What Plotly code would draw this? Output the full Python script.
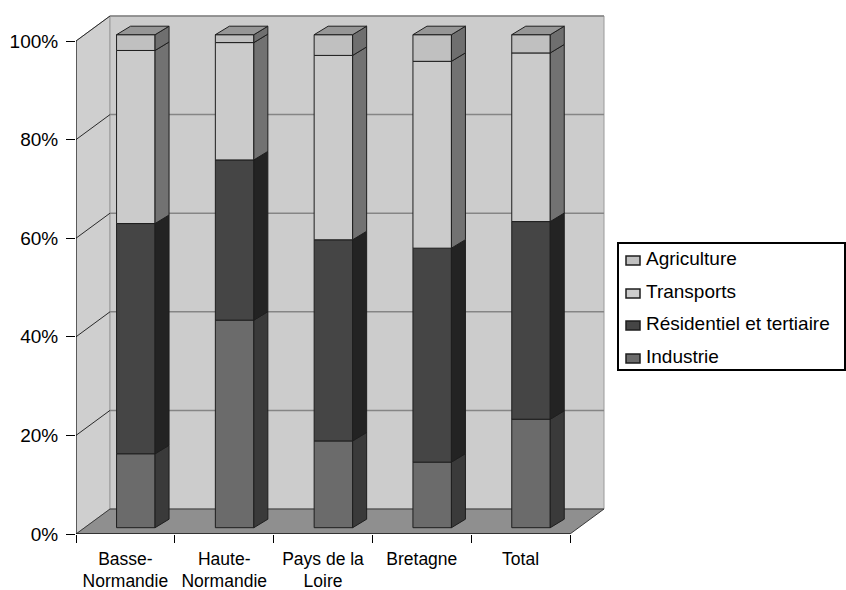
import plotly.graph_objects as go

# Répartition des émissions par secteur (en % du total de chaque région)
regions = ["Basse-<br>Normandie", "Haute-<br>Normandie", "Pays de la<br>Loire", "Bretagne", "Total"]
industrie = [15.0, 42.1, 17.6, 13.3, 22.0]
residentiel = [46.7, 32.5, 40.8, 43.4, 40.1]
transports = [35.1, 23.8, 37.4, 37.9, 34.2]
agriculture = [3.2, 1.6, 4.2, 5.4, 3.7]
pct_ticks = [0, 20, 40, 60, 80, 100]
pct_labels = ["0%", "20%", "40%", "60%", "80%", "100%"]

# stacking order, bottom to top: (name, values, front colour, side colour)
series = [
    ("Industrie", industrie, "#6b6b6b", "#3a3a3a"),
    ("Résidentiel et tertiaire", residentiel, "#454545", "#232323"),
    ("Transports", transports, "#cbcbcb", "#727272"),
    ("Agriculture", agriculture, "#c0c0c0", "#6f6f6f"),
]
legend_order = ["Agriculture", "Transports", "Résidentiel et tertiaire", "Industrie"]
legend_fill = {"Agriculture": "#c0c0c0", "Transports": "#cccccc",
               "Résidentiel et tertiaire": "#454545", "Industrie": "#6b6b6b"}
TOP_FACE = "#969696"

FONT = "Liberation Sans, Arial, sans-serif"
W, H = 846, 590
# plot area in pixels
PL, PR, PT, PB = 76, 612, 8, 534
CAT_PX = 98.8      # pixels per category
PCT_PX = 4.93      # pixels per percent
n = len(regions)
xpos = list(range(n))
x_range = [-0.5, -0.5 + (PR - PL) / CAT_PX]
y_range = [0, (PB - PT) / PCT_PX]

# oblique depth of the box, and of the bars inside it
WALL_DX, WALL_DY = 34 / CAT_PX, 25 / PCT_PX
BAR_SHIFT_X, BAR_SHIFT_Y = 10.4 / CAT_PX, 6.3 / PCT_PX
BAR_W = 38.5 / CAT_PX
BAR_DX, BAR_DY = 14 / CAT_PX, 8.5 / PCT_PX

x_left, x_right = -0.5, n - 0.5


def px_to_paper(px, py):
    return (px - PL) / (PR - PL), (PB - py) / (PB - PT)


shapes = []
# left wall, back wall, floor
shapes.append(dict(type="path", xref="x", yref="y", layer="below",
                   path=f"M{x_left},0 L{x_left},100 L{x_left + WALL_DX},{100 + WALL_DY} "
                        f"L{x_left + WALL_DX},{WALL_DY} Z",
                   fillcolor="#cfcfcf", line=dict(color="#9a9a9a", width=1)))
shapes.append(dict(type="rect", xref="x", yref="y", layer="below",
                   x0=x_left + WALL_DX, x1=x_right + WALL_DX, y0=WALL_DY, y1=100 + WALL_DY,
                   fillcolor="#cccccc", line=dict(color="#9a9a9a", width=1)))
shapes.append(dict(type="path", xref="x", yref="y", layer="below",
                   path=f"M{x_left},0 L{x_right},0 L{x_right + WALL_DX},{WALL_DY} "
                        f"L{x_left + WALL_DX},{WALL_DY} Z",
                   fillcolor="#8f8f8f", line=dict(color="#3a3a3a", width=1)))
# gridlines: diagonal on the left wall, horizontal on the back wall
for v in pct_ticks[1:]:
    shapes.append(dict(type="line", xref="x", yref="y", layer="below",
                       x0=x_left, y0=v, x1=x_left + WALL_DX, y1=v + WALL_DY,
                       line=dict(color="#2a2a2a", width=1)))
    shapes.append(dict(type="line", xref="x", yref="y", layer="below",
                       x0=x_left + WALL_DX, y0=v + WALL_DY, x1=x_right + WALL_DX, y1=v + WALL_DY,
                       line=dict(color="#858585", width=1.5)))
# front axis lines
shapes.append(dict(type="line", xref="x", yref="y", x0=x_left, y0=0, x1=x_left, y1=100,
                   line=dict(color="#000000", width=1)))
shapes.append(dict(type="line", xref="x", yref="y", x0=x_left, y0=0, x1=x_right, y1=0,
                   line=dict(color="#000000", width=1)))

fig = go.Figure()

# front faces of the stacked bars
cum = [0.0] * n
segments = []
for name, vals, front, side in series:
    base = [c + BAR_SHIFT_Y for c in cum]
    fig.add_trace(go.Bar(x=xpos, y=vals, base=base, width=BAR_W,
                         offset=BAR_SHIFT_X - BAR_W / 2, name=name,
                         marker=dict(color=front, line=dict(color="#1e1e1e", width=1)),
                         showlegend=False, hoverinfo="skip"))
    segments.append((cum[:], [c + v for c, v in zip(cum, vals)], side))
    cum = [c + v for c, v in zip(cum, vals)]

# side faces
for lo, hi, side in segments:
    xs, ys = [], []
    for i in range(n):
        xr = i + BAR_SHIFT_X + BAR_W / 2
        b, t = lo[i] + BAR_SHIFT_Y, hi[i] + BAR_SHIFT_Y
        xs += [xr, xr + BAR_DX, xr + BAR_DX, xr, xr, None]
        ys += [b, b + BAR_DY, t + BAR_DY, t, b, None]
    fig.add_trace(go.Scatter(x=xs, y=ys, mode="lines", fill="toself", fillcolor=side,
                             line=dict(color="#1e1e1e", width=1),
                             showlegend=False, hoverinfo="skip"))

# top faces
xs, ys = [], []
for i in range(n):
    xl = i + BAR_SHIFT_X - BAR_W / 2
    xr = xl + BAR_W
    t = cum[i] + BAR_SHIFT_Y
    xs += [xl, xr, xr + BAR_DX, xl + BAR_DX, xl, None]
    ys += [t, t, t + BAR_DY, t + BAR_DY, t, None]
fig.add_trace(go.Scatter(x=xs, y=ys, mode="lines", fill="toself", fillcolor=TOP_FACE,
                         line=dict(color="#1e1e1e", width=1),
                         showlegend=False, hoverinfo="skip"))

# legend box
annotations = []
lx0, ly0 = px_to_paper(618, 243)
lx1, ly1 = px_to_paper(845, 370)
shapes.append(dict(type="rect", xref="paper", yref="paper", x0=lx0, x1=lx1, y0=ly0, y1=ly1,
                   fillcolor="#ffffff", line=dict(color="#000000", width=2)))
row_y = [259, 292, 324, 357]
for name, ry in zip(legend_order, row_y):
    sx0, sy0 = px_to_paper(626, ry - 3)
    sx1, sy1 = px_to_paper(640, ry + 6)
    shapes.append(dict(type="rect", xref="paper", yref="paper", x0=sx0, x1=sx1, y0=sy0, y1=sy1,
                       fillcolor=legend_fill[name], line=dict(color="#1e1e1e", width=1.5)))
    tx, ty = px_to_paper(644, ry - 0.5)
    annotations.append(dict(xref="paper", yref="paper", x=tx, y=ty, text=name,
                            showarrow=False, xanchor="left", yanchor="middle",
                            font=dict(family=FONT, size=19, color="#000000")))

fig.update_layout(
    template="none",
    width=W, height=H,
    margin=dict(l=PL, r=W - PR, t=PT, b=H - PB, pad=0, autoexpand=False),
    paper_bgcolor="#ffffff", plot_bgcolor="#ffffff",
    barmode="overlay",
    showlegend=False,
    shapes=shapes,
    annotations=annotations,
    font=dict(family=FONT, color="#000000"),
    xaxis=dict(range=x_range, tickvals=xpos, ticktext=regions, ticks="",
               showgrid=False, zeroline=False, showline=False, automargin=False,
               tickfont=dict(family=FONT, size=17.5), ticklabelstandoff=12),
    xaxis2=dict(range=x_range, overlaying="x", anchor="y", side="bottom",
                tickvals=[x_left + k for k in range(n + 1)], showticklabels=False,
                ticks="outside", ticklen=8, tickcolor="#000000", tickwidth=1,
                showgrid=False, zeroline=False, showline=False, automargin=False),
    yaxis=dict(range=y_range, tickvals=pct_ticks, ticktext=pct_labels,
               ticks="outside", ticklen=9, tickcolor="#000000", tickwidth=1,
               showgrid=False, zeroline=False, showline=False, automargin=False,
               tickfont=dict(family=FONT, size=19), ticklabelstandoff=4),
)
# an empty trace so the boundary tick axis is drawn
fig.add_trace(go.Scatter(x=[None], y=[None], xaxis="x2", yaxis="y", showlegend=False,
                         hoverinfo="skip"))

fig.write_html("out.html")
